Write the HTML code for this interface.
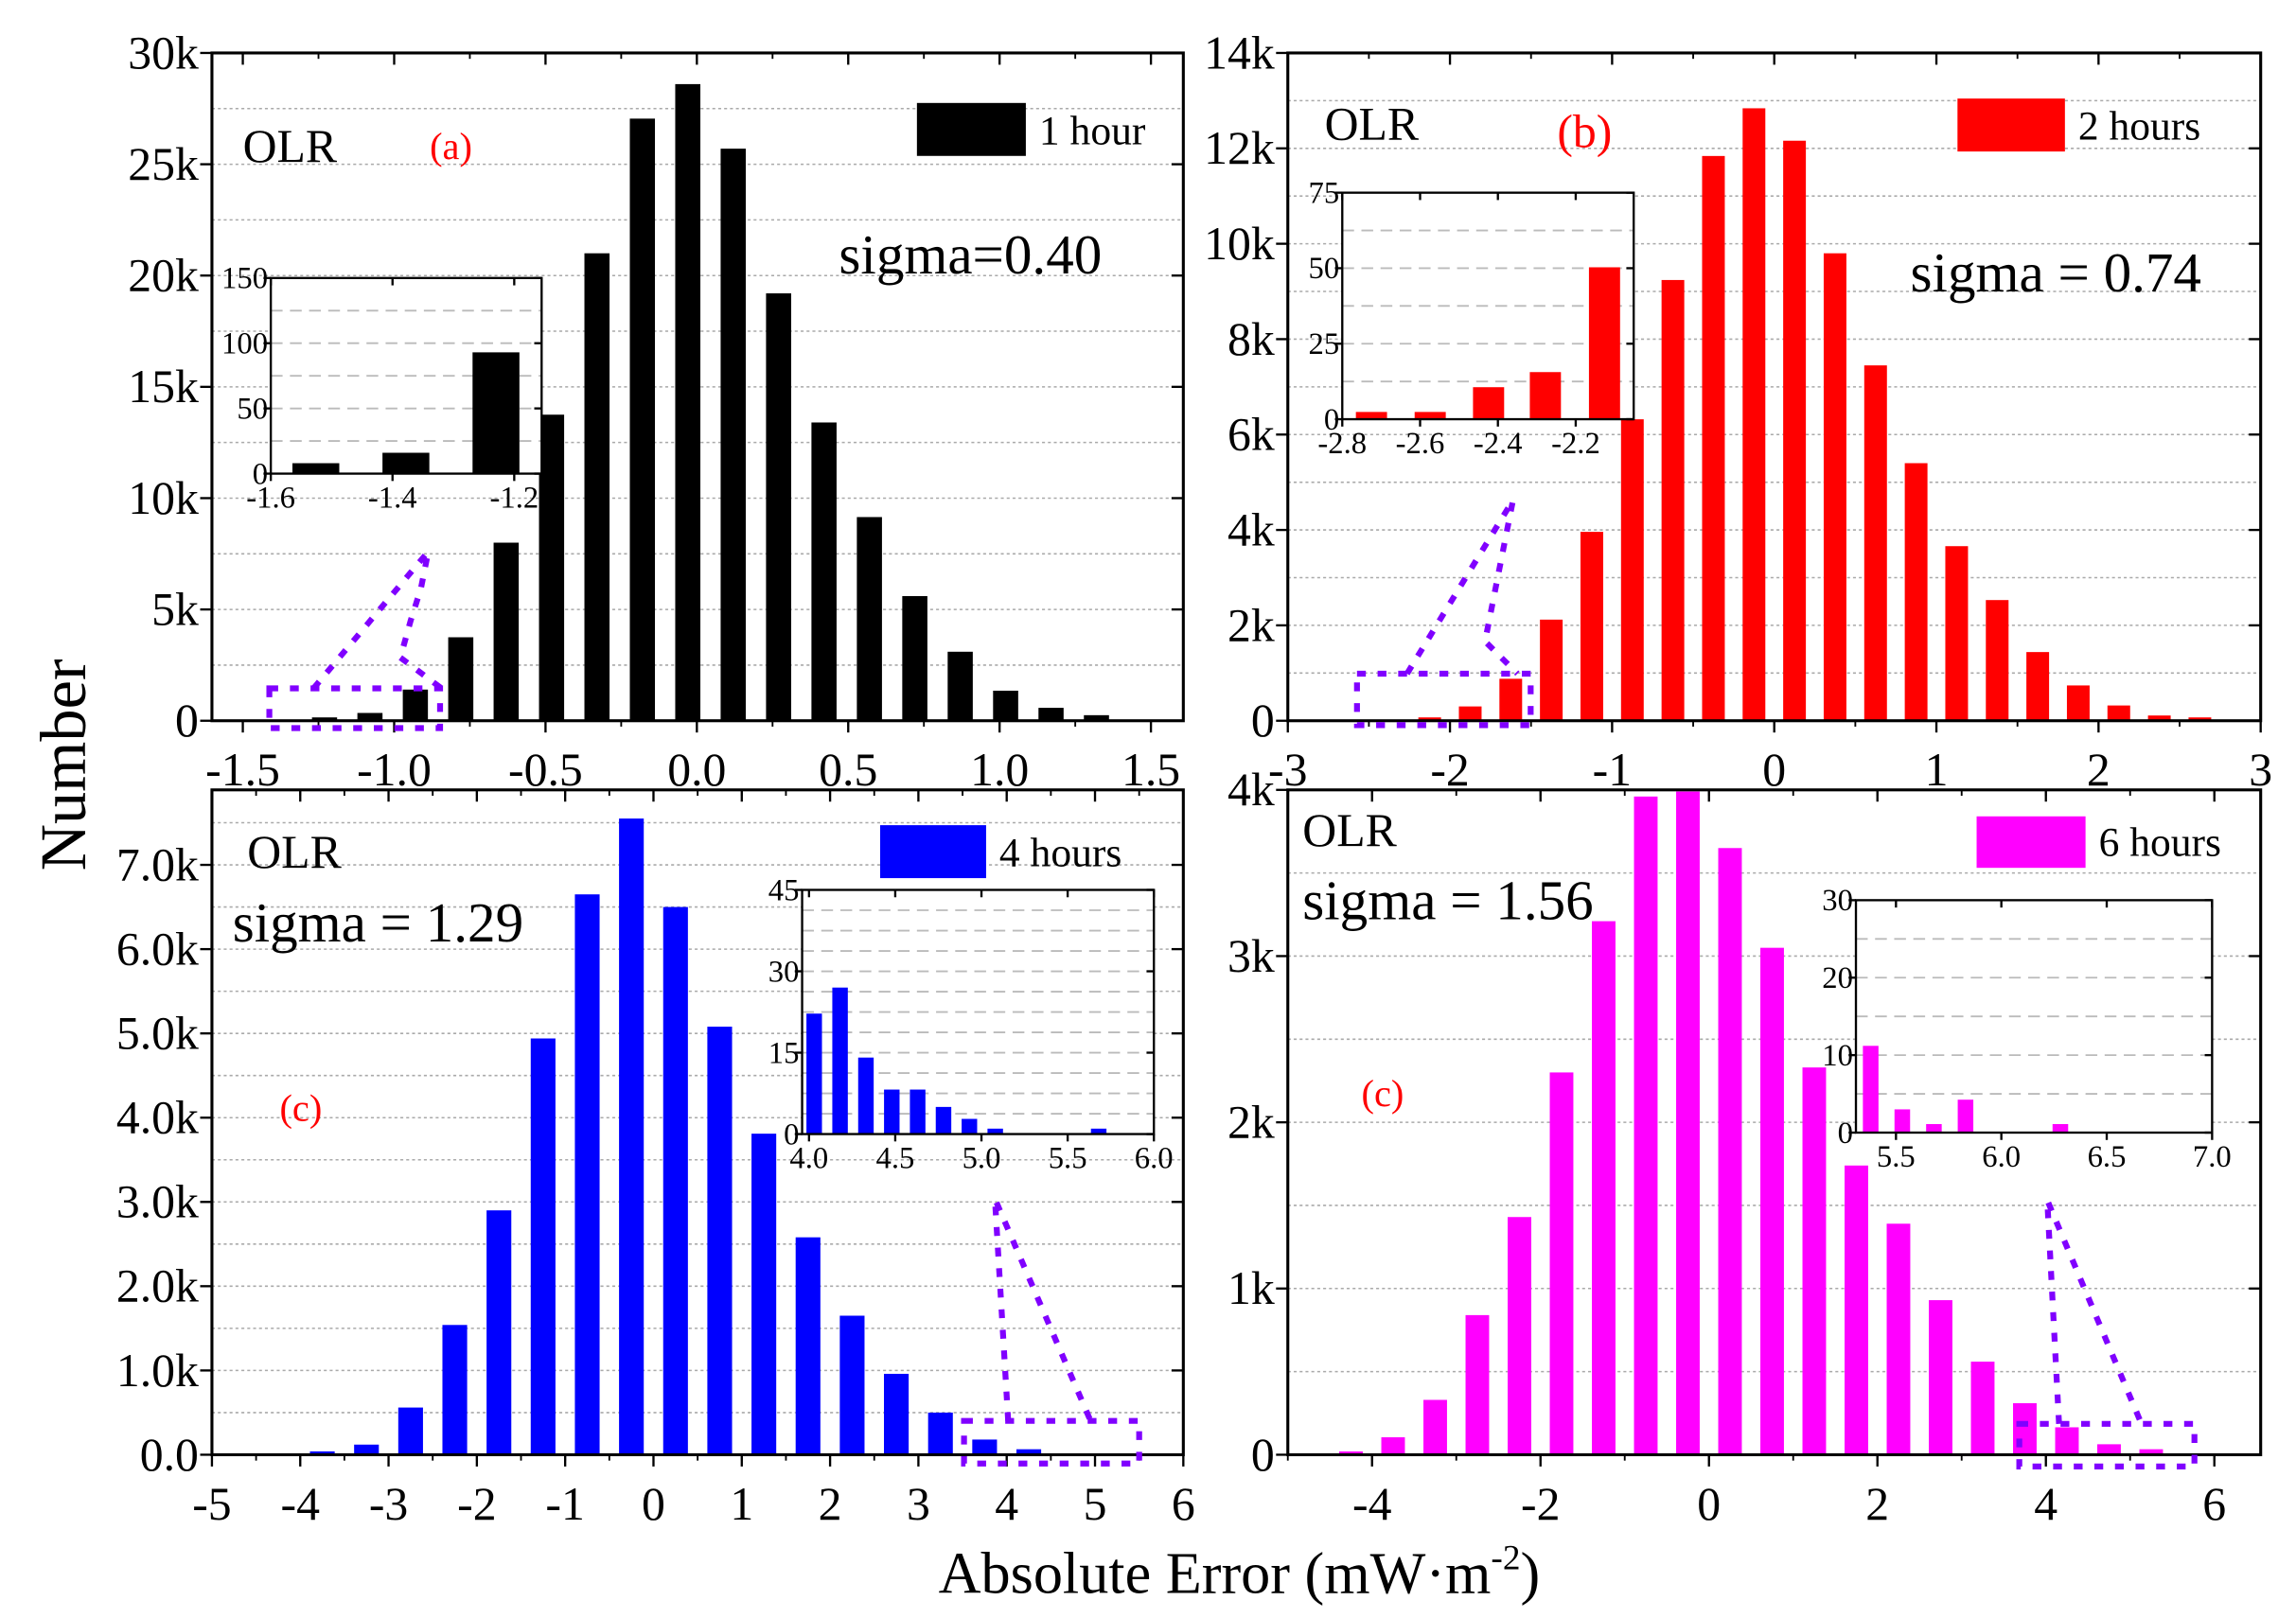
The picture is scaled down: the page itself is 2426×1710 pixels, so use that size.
<!DOCTYPE html>
<html><head><meta charset="utf-8"><style>
html,body{margin:0;padding:0;background:#fff;}
svg{display:block;}
text{font-family:"Liberation Serif",serif;}
</style></head><body>
<svg id="fig" width="2426" height="1710" viewBox="0 0 1560 1100" preserveAspectRatio="none" xmlns="http://www.w3.org/2000/svg">
<rect x="0" y="0" width="1560" height="1100" fill="#fff"/>
<text x="0" y="0" transform="translate(58,520) rotate(-90)" text-anchor="middle" font-size="44">Number</text>
<text x="842" y="1083" text-anchor="middle" font-size="40">Absolute Error (mW·m<tspan dy="-16" font-size="24">-2</tspan><tspan dy="16">)</tspan></text>
</svg>
<script>
// ---- Panel (a) 1 hour ----
const aCenters=[-1.23,-1.08,-0.93,-0.78,-0.63,-0.48,-0.33,-0.18,-0.03,0.12,0.27,0.42,0.57,0.72,0.87,1.02,1.17,1.32];
const aValues=[150,350,1400,3750,8000,13750,21000,27050,28600,25700,19200,13400,9150,5600,3100,1350,580,250];
const aXTicks=[-1.5,-1.0,-0.5,0.0,0.5,1.0,1.5];
const aXLabels=["-1.5","-1.0","-0.5","0.0","0.5","1.0","1.5"];
const aYTicks=[0,5000,10000,15000,20000,25000,30000];
const aYLabels=["0","5k","10k","15k","20k","25k","30k"];
const aInsetCenters=[-1.526,-1.378,-1.23];
const aInsetValues=[8,16,93];
const aInsetXTicks=[-1.6,-1.4,-1.2];
const aInsetXLabels=["-1.6","-1.4","-1.2"];
const aInsetYTicks=[0,50,100,150];
// ---- Panel (b) 2 hours ----
const bCenters=[-2.125,-1.875,-1.625,-1.375,-1.125,-0.875,-0.625,-0.375,-0.125,0.125,0.375,0.625,0.875,1.125,1.375,1.625,1.875,2.125,2.375,2.625];
const bValues=[70,300,880,2120,3960,6320,9240,11840,12840,12160,9800,7450,5400,3660,2530,1440,740,320,110,70];
const bXTicks=[-3,-2,-1,0,1,2,3];
const bXLabels=["-3","-2","-1","0","1","2","3"];
const bYTicks=[0,2000,4000,6000,8000,10000,12000,14000];
const bYLabels=["0","2k","4k","6k","8k","10k","12k","14k"];
const bInsetCenters=[-2.725,-2.574,-2.424,-2.278,-2.126];
const bInsetValues=[2.4,2.4,10.6,15.6,50.3];
const bInsetXTicks=[-2.8,-2.6,-2.4,-2.2];
const bInsetXLabels=["-2.8","-2.6","-2.4","-2.2"];
const bInsetYTicks=[0,25,50,75];
// ---- Panel (c) 4 hours ----
const cCenters=[-3.75,-3.25,-2.75,-2.25,-1.75,-1.25,-0.75,-0.25,0.25,0.75,1.25,1.75,2.25,2.75,3.25,3.75,4.25];
const cValues=[40,120,560,1540,2900,4940,6650,7550,6500,5080,3810,2580,1650,960,500,180,65];
const cXTicks=[-5,-4,-3,-2,-1,0,1,2,3,4,5,6];
const cXLabels=["-5","-4","-3","-2","-1","0","1","2","3","4","5","6"];
const cYTicks=[0,1000,2000,3000,4000,5000,6000,7000];
const cYLabels=["0.0","1.0k","2.0k","3.0k","4.0k","5.0k","6.0k","7.0k"];
const cInsetCenters=[4.03,4.18,4.33,4.48,4.63,4.78,4.93,5.08,5.68];
const cInsetValues=[22.2,27,14.1,8.2,8.2,5.0,2.8,1.0,1.0];
const cInsetXTicks=[4.0,4.5,5.0,5.5,6.0];
const cInsetXLabels=["4.0","4.5","5.0","5.5","6.0"];
const cInsetYTicks=[0,15,30,45];
// ---- Panel (d) 6 hours ----
const dCenters=[-4.25,-3.75,-3.25,-2.75,-2.25,-1.75,-1.25,-0.75,-0.25,0.25,0.75,1.25,1.75,2.25,2.75,3.25,3.75,4.25,4.75,5.25];
const dValues=[20,105,330,840,1430,2300,3210,3960,3990,3650,3050,2330,1740,1390,930,560,310,165,63,33];
const dXTicks=[-4,-2,0,2,4,6];
const dXLabels=["-4","-2","0","2","4","6"];
const dYTicks=[0,1000,2000,3000,4000];
const dYLabels=["0","1k","2k","3k","4k"];
const dInsetCenters=[5.38,5.53,5.68,5.83,6.28];
const dInsetValues=[11.2,3.0,1.1,4.25,1.1];
const dInsetXTicks=[5.5,6.0,6.5,7.0];
const dInsetXLabels=["5.5","6.0","6.5","7.0"];
const dInsetYTicks=[0,10,20,30];

const NS="http://www.w3.org/2000/svg";
const svg=document.getElementById('fig');
function mk(tag,attrs,parent,txt){const e=document.createElementNS(NS,tag);for(const k in attrs)e.setAttribute(k,attrs[k]);if(txt!==undefined)e.textContent=txt;(parent||svg).appendChild(e);return e;}

function panel(p){
  const g=mk('g',{});
  
  
  const [L,T,R,B]=p.box;
  const sx=v=>L+(v-p.xr[0])/(p.xr[1]-p.xr[0])*(R-L);
  const sy=v=>B-(v-p.yr[0])/(p.yr[1]-p.yr[0])*(B-T);
  for(let v=p.yr[0]+p.grid; v<p.yr[1]-1e-9; v+=p.grid){
    const ln=mk('line',{x1:L,x2:R,y1:sy(v),y2:sy(v),stroke:p.inset?'#bbb':'#aaa','stroke-width':p.inset?1.2:1,'stroke-dasharray':p.inset?'8,5':'2,2'},g);
    
    
  }
  p.centers.forEach((c,i)=>{
    const x0=sx(c-p.bw/2), x1=sx(c+p.bw/2), y=sy(Math.min(p.values[i],p.yr[1]));
    const r=mk('rect',{x:x0,y:y,width:x1-x0,height:B-y,fill:p.color},g);
    
    
  });
  const fr=mk('rect',{x:L,y:T,width:R-L,height:B-T,fill:'none',stroke:'#000','stroke-width':p.inset?1.5:2},g);
  
  
  const tl=p.inset?5:8, fs=p.inset?21:32;
  p.xTicks.forEach((v,i)=>{
    const x=sx(v);
    mk('line',{x1:x,x2:x,y1:B,y2:B+tl,stroke:'#000','stroke-width':1.5},g);
    mk('line',{x1:x,x2:x,y1:T,y2:T+tl,stroke:'#000','stroke-width':1.5},g);
    const t=mk('text',{x:x,y:B+(p.inset?23:44),'text-anchor':'middle','font-size':fs},g,p.xLabels[i]);
    
    
  });
  if(p.xMinor){
    for(let v=p.xTicks[0]-p.xMinor; v<p.xr[1]; v+=p.xMinor){
      if(v<p.xr[0])continue;
      const x=sx(v);
      mk('line',{x1:x,x2:x,y1:B,y2:B+4,stroke:'#000','stroke-width':1.2},g);
      mk('line',{x1:x,x2:x,y1:T,y2:T+4,stroke:'#000','stroke-width':1.2},g);
    }
  }
  p.yTicks.forEach((v,i)=>{
    const y=sy(v);
    mk('line',{x1:L-tl,x2:L,y1:y,y2:y,stroke:'#000','stroke-width':1.5},g);
    mk('line',{x1:R-tl,x2:R,y1:y,y2:y,stroke:'#000','stroke-width':1.5},g);
    const t=mk('text',{x:L-(p.inset?2:9),y:y+fs*0.33,'text-anchor':'end','font-size':fs},g,p.yLabels?p.yLabels[i]:String(v));
    
    
  });
  return g;
}

function txt(x,y,s,size,fill,name){const t=mk('text',{x:x,y:y,'font-size':size,fill:fill||'#000'},svg,s);return t;}
function legend(x,y,w,h,color,label,name){
  const r=mk('rect',{x:x,y:y,width:w,height:h,fill:color});
  
  
  txt(x+w+9,y+h-8,label,28,'#000',name+'-label');
}
function callout(pts,rect,name){
  const g=mk('g',{fill:'none',stroke:'#8000ff','stroke-width':4,'stroke-dasharray':'6,8'});
  
  
  mk('rect',{x:rect[0],y:rect[1],width:rect[2]-rect[0],height:rect[3]-rect[1]},g);
  mk('polyline',{points:pts},g);
}

panel({name:'panel-a',box:[144,36,804,490],xr:[-1.602,1.607],yr:[0,30000],grid:2500,centers:aCenters,values:aValues,bw:0.083,color:'#000',xTicks:aXTicks,xLabels:aXLabels,xMinor:0.25,yTicks:aYTicks,yLabels:aYLabels});
panel({name:'panel-b',box:[875,36,1536,490],xr:[-3,3],yr:[0,14000],grid:1000,centers:bCenters,values:bValues,bw:0.14,color:'#ff0000',xTicks:bXTicks,xLabels:bXLabels,xMinor:0.5,yTicks:bYTicks,yLabels:bYLabels});
panel({name:'panel-c',box:[144,537,804,989],xr:[-5,6],yr:[0,7890],grid:500,centers:cCenters,values:cValues,bw:0.28,color:'#0000ff',xTicks:cXTicks,xLabels:cXLabels,xMinor:0.5,yTicks:cYTicks,yLabels:cYLabels});
panel({name:'panel-d',box:[875,537,1536,989],xr:[-5,6.55],yr:[0,4000],grid:500,centers:dCenters,values:dValues,bw:0.28,color:'#ff00ff',xTicks:dXTicks,xLabels:dXLabels,xMinor:1,yTicks:dYTicks,yLabels:dYLabels});

function insetBg(b){const r=mk('rect',{x:b[0],y:b[1],width:b[2]-b[0],height:b[3]-b[1],fill:'#fff'});}
insetBg([184,189,368,322]);
panel({name:'inset-a',inset:true,box:[184,189,368,322],xr:[-1.6,-1.155],yr:[0,150],grid:25,centers:aInsetCenters,values:aInsetValues,bw:0.077,color:'#000',xTicks:aInsetXTicks,xLabels:aInsetXLabels,yTicks:aInsetYTicks});
insetBg([912,131,1110,285]);
panel({name:'inset-b',inset:true,box:[912,131,1110,285],xr:[-2.8,-2.051],yr:[0,75],grid:12.5,centers:bInsetCenters,values:bInsetValues,bw:0.08,color:'#ff0000',xTicks:bInsetXTicks,xLabels:bInsetXLabels,yTicks:bInsetYTicks});
insetBg([545,605,784,771]);
panel({name:'inset-c',inset:true,box:[545,605,784,771],xr:[3.96,6.0],yr:[0,45],grid:3.75,centers:cInsetCenters,values:cInsetValues,bw:0.09,color:'#0000ff',xTicks:cInsetXTicks,xLabels:cInsetXLabels,yTicks:cInsetYTicks});
insetBg([1261,612,1503,770]);
panel({name:'inset-d',inset:true,box:[1261,612,1503,770],xr:[5.31,7.0],yr:[0,30],grid:5,centers:dInsetCenters,values:dInsetValues,bw:0.074,color:'#ff00ff',xTicks:dInsetXTicks,xLabels:dInsetXLabels,yTicks:dInsetYTicks});

callout('213,468 291,375 286,400 279,422 272,447 300,468',[183,468,299,495],'zoom-callout-a');
callout('956,458 1028,340 1009,436 1031,458',[922,458,1040,493],'zoom-callout-b');
callout('685,966 676,815 741,966',[655,966,774,995],'zoom-callout-c');
callout('1399,968 1391,816 1455,968',[1372,968,1491,997],'zoom-callout-d');

txt(165,110,'OLR',32,'#000','panel-a-variable');
txt(292,108,'(a)',26,'#ff0000','panel-a-letter');
legend(623,70,74,36,'#000','1 hour','legend-1-hour');
txt(570,186,'sigma=0.40',38,'#000','panel-a-sigma');

txt(900,95,'OLR',32,'#000','panel-b-variable');
txt(1058,100,'(b)',32,'#ff0000','panel-b-letter');
legend(1330,67,73,36,'#ff0000','2 hours','legend-2-hours');
txt(1298,198,'sigma = 0.74',38,'#000','panel-b-sigma');

txt(168,590,'OLR',32,'#000','panel-c-variable');
txt(158,640,'sigma = 1.29',38,'#000','panel-c-sigma');
txt(190,762,'(c)',26,'#ff0000','panel-c-letter');
legend(598,561,72,36,'#0000ff','4 hours','legend-4-hours');

txt(885,575,'OLR',32,'#000','panel-d-variable');
txt(885,625,'sigma = 1.56',38,'#000','panel-d-sigma');
txt(925,752,'(c)',26,'#ff0000','panel-d-letter');
legend(1343,555,74,35,'#ff00ff','6 hours','legend-6-hours');
</script>
</body></html>
